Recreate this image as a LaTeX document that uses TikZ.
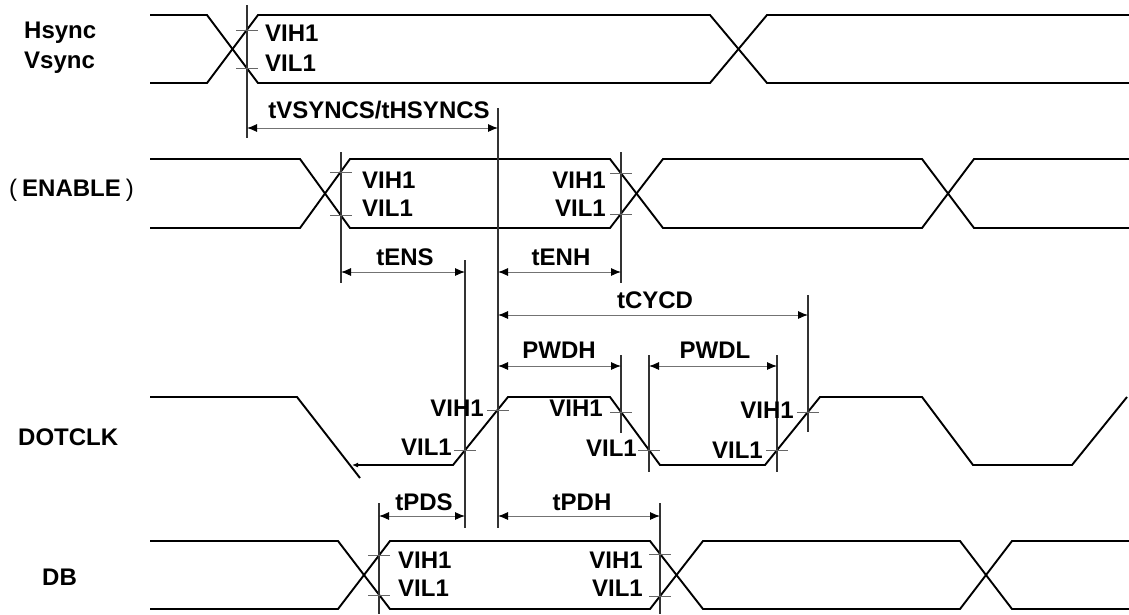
\documentclass[tikz,border=0pt]{standalone}
\usepackage{fontspec}
\setmainfont{Liberation Sans}
\usetikzlibrary{arrows.meta}
\begin{document}
\begin{tikzpicture}[x=1pt,y=-1pt,
  sig/.style={line width=1.9pt,line join=miter},
  refl/.style={line width=1.1pt,black!80},
  tk/.style={line width=0.7pt,black!60},
  dim/.style={line width=0.9pt,black!55,{Latex[length=10pt,width=8pt,black]}-{Latex[length=10pt,width=8pt,black]}},
  lbl/.style={font=\fontsize{24}{26}\selectfont\bfseries,inner sep=0pt},
]
\useasboundingbox (0,0) rectangle (1129,614);

% ---------- signal names ----------
\node[lbl,anchor=west] (nhs) at (24,33) {Hsync};
\node[lbl,anchor=west] (nvs) at (24,63) {Vsync};
\node[lbl,anchor=west] (nen) at (9,190) {{\mdseries (}\hspace{5pt}ENABLE\hspace{5pt}{\mdseries )}};
\node[lbl,anchor=west] (ndc) at (18,437) {DOTCLK};
\node[lbl,anchor=west] (ndb) at (42,577) {DB};

% ---------- Hsync / Vsync ----------
\draw[sig] (150,15) -- (207,15) -- (258,83) -- (710,83) -- (767,15) -- (1129,15);
\draw[sig] (150,83) -- (207,83) -- (258,15) -- (710,15) -- (767,83) -- (1129,83);

% ---------- ENABLE ----------
\draw[sig] (150,159) -- (300,159) -- (350,228) -- (610,228) -- (663,159) -- (922,159) -- (974,228) -- (1129,228);
\draw[sig] (150,228) -- (300,228) -- (350,159) -- (610,159) -- (663,228) -- (922,228) -- (974,159) -- (1129,159);

% ---------- DOTCLK ----------
\draw[sig] (150,397) -- (297,397) -- (360,478);
\draw[sig,{Latex[length=6pt,width=5pt]}-] (352,465) -- (453,465) -- (508,397) -- (610,397) -- (660,465) -- (765,465) -- (820,397) -- (922,397) -- (973,465) -- (1072,465) -- (1127,397);

% ---------- DB ----------
\draw[sig] (150,541) -- (338,541) -- (390,609) -- (650,609) -- (703,541) -- (960,541) -- (1012,609) -- (1129,609);
\draw[sig] (150,609) -- (338,609) -- (390,541) -- (650,541) -- (703,609) -- (960,609) -- (1012,541) -- (1129,541);

% ---------- reference lines ----------
\coordinate (v1t) at (247,5);   \coordinate (v1b) at (247,138);
\coordinate (v2t) at (498,108); \coordinate (v2b) at (498,528);
\coordinate (v3t) at (341,152); \coordinate (v3b) at (341,283);
\coordinate (v4t) at (621,152); \coordinate (v4b) at (621,283);
\coordinate (v5t) at (465,260); \coordinate (v5b) at (465,528);
\coordinate (v6t) at (808,295); \coordinate (v6b) at (808,432);
\coordinate (v7t) at (621,355); \coordinate (v7b) at (621,433);
\coordinate (v8t) at (649,355); \coordinate (v8b) at (649,472);
\coordinate (v9t) at (777,355); \coordinate (v9b) at (777,472);
\coordinate (v10t) at (379,503); \coordinate (v10b) at (379,614);
\coordinate (v11t) at (660,503); \coordinate (v11b) at (660,614);
\foreach \v in {1,...,11} \draw[refl] (v\v t) -- (v\v b);

% ---------- threshold ticks ----------
\foreach \x/\y in {247/30,247/68,341/172,341/215,621/173,621/214,
  498/410,465/450,621/412,649/450,808/412,777/450,
  379/555,379/595,660/554,660/596}
  \draw[tk] (\x-11,\y) -- (\x+11,\y);

% ---------- VIH1 / VIL1 ----------
\node[lbl,anchor=west] (a1) at (265,33) {VIH1};
\node[lbl,anchor=west] (a2) at (265,63) {VIL1};
\node[lbl,anchor=west] (b1) at (362,180) {VIH1};
\node[lbl,anchor=west] (b2) at (362,208) {VIL1};
\node[lbl,anchor=east] (b3) at (606,180) {VIH1};
\node[lbl,anchor=east] (b4) at (606,208) {VIL1};
\node[lbl,anchor=east] (c1) at (484,408) {VIH1};
\node[lbl,anchor=east] (c2) at (452,447) {VIL1};
\node[lbl,anchor=east] (c3) at (603,408) {VIH1};
\node[lbl,anchor=east] (c4) at (637,448) {VIL1};
\node[lbl,anchor=east] (c5) at (794,410) {VIH1};
\node[lbl,anchor=east] (c6) at (763,450) {VIL1};
\node[lbl,anchor=west] (d1) at (398,560) {VIH1};
\node[lbl,anchor=west] (d2) at (398,588) {VIL1};
\node[lbl,anchor=east] (d3) at (643,560) {VIH1};
\node[lbl,anchor=east] (d4) at (643,588) {VIL1};

% ---------- timing dimensions ----------
\coordinate (m1a) at (247,128); \coordinate (m1b) at (498,128);
\coordinate (m2a) at (341,272); \coordinate (m2b) at (465,272);
\coordinate (m3a) at (498,272); \coordinate (m3b) at (621,272);
\coordinate (m4a) at (498,315); \coordinate (m4b) at (808,315);
\coordinate (m5a) at (498,366); \coordinate (m5b) at (621,366);
\coordinate (m6a) at (649,366); \coordinate (m6b) at (777,366);
\coordinate (m7a) at (379,516); \coordinate (m7b) at (465,516);
\coordinate (m8a) at (498,516); \coordinate (m8b) at (660,516);
\foreach \m in {1,...,8} \draw[dim] (m\m a) -- (m\m b);

\node[lbl] (t1) at (379,110) {tVSYNCS/tHSYNCS};
\node[lbl] (t2) at (405,257) {tENS};
\node[lbl] (t3) at (561,257) {tENH};
\node[lbl] (t4) at (655,300) {tCYCD};
\node[lbl] (t5) at (559,350) {PWDH};
\node[lbl] (t6) at (715,350) {PWDL};
\node[lbl] (t7) at (424,502) {tPDS};
\node[lbl] (t8) at (582,502) {tPDH};
\end{tikzpicture}
\end{document}
